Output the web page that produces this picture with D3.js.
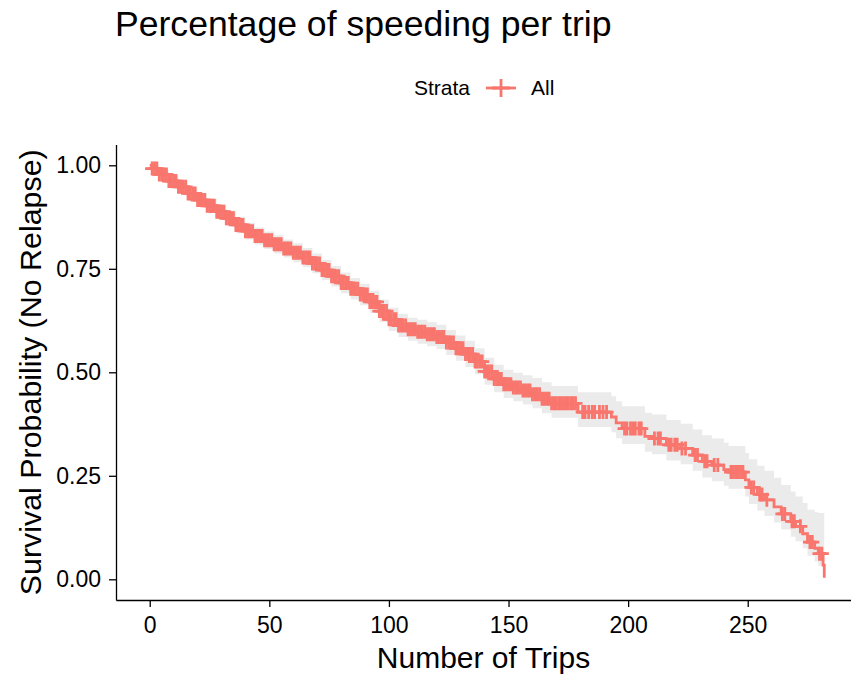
<!DOCTYPE html>
<html>
<head>
<meta charset="utf-8">
<script src="https://cdn.jsdelivr.net/npm/d3@7"></script>
<style>
  body { margin: 0; background: #fff; }
  svg { display: block; font-family: "Liberation Sans", Arial, sans-serif; }
</style>
</head>
<body>
<svg id="chart" width="851" height="676"></svg>
<script>
// KM step curve (trips -> survival)
const eventTime = [0, 1, 4, 8, 12, 16, 20, 24, 28, 32, 36, 40, 44, 48, 52, 56, 60, 64, 68, 72, 76, 80,
  84, 88, 92, 96, 100, 104, 108, 112, 116, 120, 124, 128, 132, 136, 140, 144, 148, 152, 156, 160, 164, 168,
  179, 193, 195, 197.5, 207, 210, 216, 222, 227, 231, 235, 240, 242, 249, 250.5, 254, 257, 261, 264, 268,
  270, 273, 275, 278, 279.5, 281.5, 282]
const survival = [1.000, 0.992, 0.978, 0.962, 0.948, 0.932, 0.916, 0.902, 0.888, 0.872, 0.856, 0.841, 0.829,
  0.819, 0.809, 0.799, 0.789, 0.777, 0.763, 0.747, 0.732, 0.716, 0.702, 0.688, 0.670, 0.648, 0.628, 0.613,
  0.604, 0.598, 0.592, 0.585, 0.572, 0.558, 0.544, 0.526, 0.502, 0.484, 0.471, 0.463, 0.456, 0.447, 0.436,
  0.425, 0.404, 0.392, 0.378, 0.364, 0.345, 0.340, 0.325, 0.316, 0.300, 0.285, 0.276, 0.265, 0.259, 0.240,
  0.222, 0.205, 0.192, 0.175, 0.158, 0.140, 0.128, 0.110, 0.090, 0.075, 0.062, 0.034, 0.004]
const upperCI = [1.000, 0.998, 0.988, 0.974, 0.962, 0.947, 0.932, 0.919, 0.906, 0.891, 0.876, 0.861, 0.850,
  0.840, 0.831, 0.821, 0.812, 0.800, 0.787, 0.771, 0.757, 0.741, 0.728, 0.714, 0.697, 0.675, 0.656, 0.641,
  0.632, 0.627, 0.621, 0.615, 0.602, 0.589, 0.576, 0.558, 0.535, 0.518, 0.506, 0.499, 0.493, 0.486, 0.476,
  0.467, 0.452, 0.442, 0.430, 0.418, 0.402, 0.398, 0.385, 0.376, 0.362, 0.348, 0.340, 0.330, 0.322, 0.305,
  0.290, 0.274, 0.262, 0.245, 0.228, 0.212, 0.200, 0.184, 0.168, 0.162, 0.160, 0.160, 0.160]
const lowerCI = [1.000, 0.986, 0.968, 0.950, 0.934, 0.917, 0.900, 0.885, 0.870, 0.853, 0.836, 0.821, 0.808,
  0.798, 0.787, 0.777, 0.766, 0.754, 0.739, 0.723, 0.707, 0.691, 0.676, 0.662, 0.643, 0.621, 0.600, 0.585,
  0.576, 0.569, 0.563, 0.556, 0.542, 0.528, 0.513, 0.495, 0.470, 0.452, 0.438, 0.430, 0.422, 0.413, 0.401,
  0.390, 0.368, 0.355, 0.341, 0.327, 0.308, 0.302, 0.287, 0.278, 0.262, 0.246, 0.237, 0.226, 0.219, 0.200,
  0.182, 0.166, 0.153, 0.137, 0.120, 0.103, 0.092, 0.075, 0.057, 0.043, 0.032, 0.010, 0.000]

// censoring marks (+), dense up to ~178 trips then sparse
const censorTime = [1, 2, 3, 4, 5, 6, 7, 8, 9, 10, 11, 12, 13, 14, 15, 16, 17, 18, 19, 20, 21, 22, 23, 24, 25,
  26, 27, 28, 29, 30, 31, 32, 33, 34, 35, 36, 37, 38, 39, 40, 41, 42, 43, 44, 45, 46, 47, 48, 49, 50, 51, 52,
  53, 54, 55, 56, 57, 58, 59, 60, 61, 62, 63, 64, 65, 66, 67, 68, 69, 70, 71, 72, 73, 74, 75, 76, 77, 78, 79,
  80, 81, 82, 83, 84, 85, 86, 87, 88, 89, 90, 91, 92, 93, 94, 95, 96, 97, 98, 99, 100, 101, 102, 103, 104,
  105, 106, 107, 108, 109, 110, 111, 112, 113, 114, 115, 116, 117, 118, 119, 120, 121, 122, 123, 124, 125,
  126, 127, 128, 129, 130, 131, 132, 133, 134, 135, 136, 137, 138, 139, 140, 141, 142, 143, 144, 145, 146,
  147, 148, 149, 150, 151, 152, 153, 154, 155, 156, 157, 158, 159, 160, 161, 162, 163, 164, 165, 166, 167,
  168, 169, 170, 171, 172, 173, 174, 175, 176, 177, 178,
  181, 182, 183.5, 185, 186, 188, 189.5, 191, 198.5, 199.5, 201, 202, 203, 204.5, 205.5, 211, 212.5, 213.5,
  217, 218, 219.5, 220.5, 222.5, 224, 228, 229, 232, 233, 236, 237.5, 243, 244, 245, 246, 247, 248, 251.5,
  252.5, 255, 256, 258, 264.5, 265.5, 268.5, 269.5, 272, 276, 277, 280, 281]

const xTicks = [0, 50, 100, 150, 200, 250]
const yTicks = [0, 0.25, 0.5, 0.75, 1]
const strataName = 'All'
const lineColor = '#F8766D'

const svg = d3.select('#chart')

// panel box (ggplot style with 5% expansion)
const panel = {left: 116, right: 858, top: 144.6, bottom: 600}

const xScale = d3.scaleLinear().domain([-14.1, 296.1]).range([panel.left, panel.right])
const yScale = d3.scaleLinear().domain([-0.05, 1.05]).range([panel.bottom, panel.top])

const km = eventTime.map((t, i) => ({t: t, s: survival[i], lo: lowerCI[i], hi: upperCI[i]}))

// confidence band
svg.append('path')
  .datum(km)
  .attr('fill', '#ebebeb')
  .attr('d', d3.area()
    .curve(d3.curveStepAfter)
    .x(d => xScale(d.t))
    .y0(d => yScale(d.lo))
    .y1(d => yScale(d.hi)))

// survival line
svg.append('path')
  .datum(km)
  .attr('fill', 'none')
  .attr('stroke', lineColor)
  .attr('stroke-width', 2.8)
  .attr('d', d3.line()
    .curve(d3.curveStepAfter)
    .x(d => xScale(d.t))
    .y(d => yScale(d.s)))

// censor marks sit on the step curve
const bis = d3.bisector(d => d.t).right
const survAt = t => km[Math.max(0, bis(km, t) - 1)].s
const plus = 'M-7,0H7M0,-7V7'

svg.append('g')
  .selectAll('path')
  .data(censorTime)
  .join('path')
    .attr('d', plus)
    .attr('transform', d => `translate(${xScale(d)},${yScale(survAt(d))})`)
    .attr('stroke', lineColor)
    .attr('stroke-width', 2.8)
    .attr('fill', 'none')

// axes
const xAxis = d3.axisBottom(xScale).tickValues(xTicks).tickSize(7).tickSizeOuter(0).tickPadding(10)
const yAxis = d3.axisLeft(yScale).tickValues(yTicks).tickFormat(d3.format('.2f')).tickSize(7).tickSizeOuter(0).tickPadding(8)

const gx = svg.append('g').attr('transform', `translate(0,${panel.bottom})`).call(xAxis)
const gy = svg.append('g').attr('transform', `translate(${panel.left},0)`).call(yAxis)

for (const g of [gx, gy]) {
  g.select('.domain').attr('stroke', '#000').attr('stroke-width', 1.3)
  g.selectAll('.tick line').attr('stroke', '#000').attr('stroke-width', 1.3)
  g.selectAll('.tick text')
    .attr('fill', '#000')
    .style('font-size', '23px')
    .style('font-family', '"Liberation Sans", Arial, sans-serif')
}

// titles
svg.append('text')
  .attr('x', 115).attr('y', 36)
  .style('font-size', '35.6px')
  .attr('fill', '#000')
  .text('Percentage of speeding per trip')

svg.append('text')
  .attr('x', (panel.left + 851) / 2).attr('y', 668)
  .attr('text-anchor', 'middle')
  .style('font-size', '30px')
  .attr('fill', '#000')
  .text('Number of Trips')

svg.append('text')
  .attr('transform', `translate(41,${(panel.top + panel.bottom) / 2}) rotate(-90)`)
  .attr('text-anchor', 'middle')
  .style('font-size', '30.4px')
  .attr('fill', '#000')
  .text('Survival Probability (No Relapse)')

// legend
const legend = svg.append('g').attr('transform', 'translate(414,88)')
legend.append('text')
  .attr('x', 0).attr('y', 0).attr('dy', '0.35em')
  .style('font-size', '21px')
  .text('Strata')
legend.append('line')
  .attr('x1', 72).attr('x2', 102).attr('y1', 0).attr('y2', 0)
  .attr('stroke', lineColor).attr('stroke-width', 2.8)
legend.append('path')
  .attr('d', 'M-9,0H9M0,-9V9')
  .attr('transform', 'translate(87,0)')
  .attr('stroke', lineColor).attr('stroke-width', 2.8)
legend.append('text')
  .attr('x', 117).attr('y', 0).attr('dy', '0.35em')
  .style('font-size', '21px')
  .text(strataName)
</script>
</body>
</html>
